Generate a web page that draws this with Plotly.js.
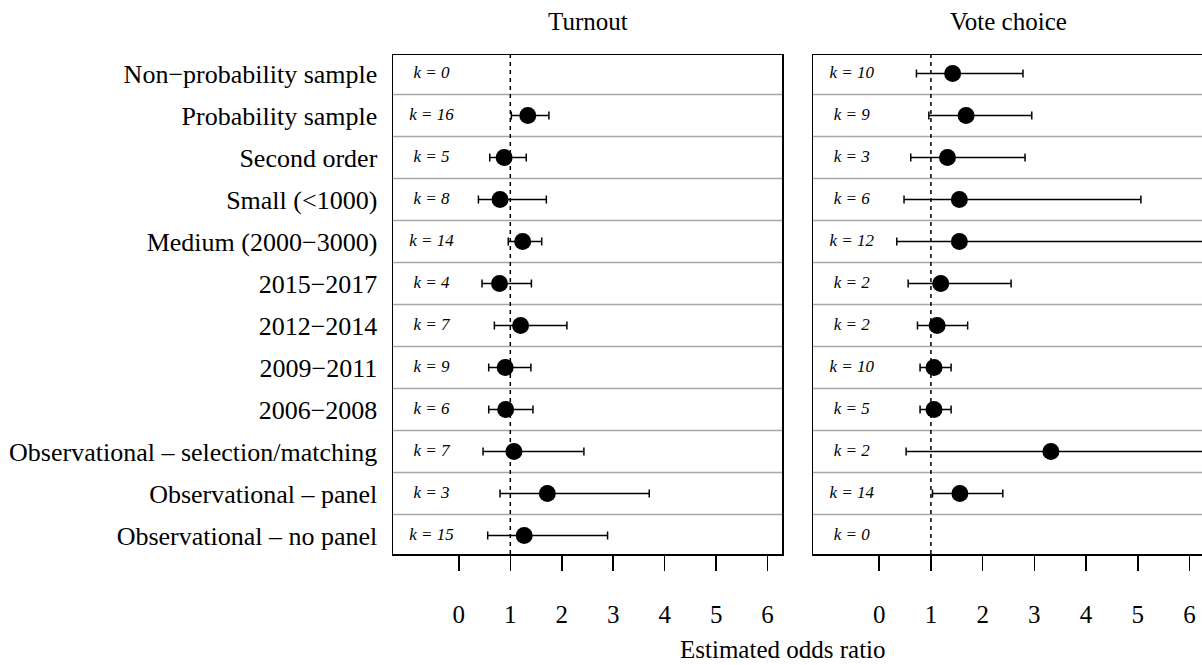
<!DOCTYPE html>
<html>
<head>
<meta charset="utf-8">
<script src="https://cdn.plot.ly/plotly-3.0.1.min.js"></script>
<style>
html,body{margin:0;padding:0;overflow:hidden;background:#fff;}
#chart{width:1210px;height:665px;}
</style>
</head>
<body>
<div id="chart"></div>
<script>
// Row categories (top to bottom)
const categories = [
  "Non\u2212probability sample",
  "Probability sample",
  "Second order",
  "Small (<1000)",
  "Medium (2000\u22123000)",
  "2015\u22122017",
  "2012\u22122014",
  "2009\u22122011",
  "2006\u22122008",
  "Observational \u2013 selection/matching",
  "Observational \u2013 panel",
  "Observational \u2013 no panel"
];

// Turnout panel
const turnoutK     = [0, 16, 5, 8, 14, 4, 7, 9, 6, 7, 3, 15];
const turnoutEst   = [null, 1.34, 0.88, 0.80, 1.24, 0.79, 1.20, 0.90, 0.91, 1.07, 1.72, 1.27];
const turnoutLower = [null, 1.02, 0.60, 0.38, 0.96, 0.45, 0.69, 0.58, 0.58, 0.47, 0.80, 0.56];
const turnoutUpper = [null, 1.75, 1.31, 1.70, 1.61, 1.41, 2.10, 1.40, 1.44, 2.43, 3.70, 2.89];

// Vote choice panel
const voteK     = [10, 9, 3, 6, 12, 2, 2, 10, 5, 2, 14, 0];
const voteEst   = [1.42, 1.68, 1.32, 1.55, 1.55, 1.19, 1.12, 1.06, 1.06, 3.32, 1.56, null];
const voteLower = [0.72, 0.96, 0.61, 0.48, 0.34, 0.56, 0.74, 0.79, 0.79, 0.52, 1.03, null];
const voteUpper = [2.78, 2.95, 2.82, 5.06, 7.60, 2.55, 1.71, 1.39, 1.39, 7.60, 2.39, null];

const xTicks = [0, 1, 2, 3, 4, 5, 6];

const rows = categories.map((_, i) => i + 1);
const serif = '"Liberation Serif", "Times New Roman", serif';

function plus(est, up)  { return est.map((e, i) => e == null ? null : up[i] - e); }
function minus(est, lo) { return est.map((e, i) => e == null ? null : e - lo[i]); }

function pointTrace(est, lo, up, xa, ya) {
  return {
    type: 'scatter', mode: 'markers', x: est, y: rows, xaxis: xa, yaxis: ya,
    marker: {color: 'black', size: 17},
    error_x: {type: 'data', symmetric: false, array: plus(est, up), arrayminus: minus(est, lo),
              color: 'black', thickness: 1.5, width: 4},
    hoverinfo: 'skip', showlegend: false
  };
}
function kTrace(k, xa, ya) {
  return {
    type: 'scatter', mode: 'text', x: k.map(() => -0.53), y: rows, xaxis: xa, yaxis: ya,
    text: k.map(v => 'k = ' + v), textposition: 'middle center',
    textfont: {family: serif, size: 17, color: 'black', style: 'italic'},
    hoverinfo: 'skip', showlegend: false
  };
}

const data = [
  pointTrace(turnoutEst, turnoutLower, turnoutUpper, 'x', 'y'),
  kTrace(turnoutK, 'x', 'y'),
  pointTrace(voteEst, voteLower, voteUpper, 'x2', 'y2'),
  kTrace(voteK, 'x2', 'y2')
];

const W = 1210;
function xaxisDef(domain) {
  return {
    domain: domain, range: [-1.28, 6.28], tickvals: xTicks, ticktext: xTicks.map(String),
    ticks: 'outside', ticklen: 15, tickwidth: 1.5, tickcolor: 'black',
    showline: true, mirror: true, linecolor: 'black', linewidth: 1.5,
    showgrid: false, zeroline: false, ticklabelstandoff: 22,
    tickfont: {family: serif, size: 25, color: 'black'}, fixedrange: true
  };
}
function yaxisDef(anchor, showLabels) {
  return {
    anchor: anchor, domain: [0, 1], range: [categories.length + 0.44, 0.56],
    tickvals: rows, ticktext: categories, showticklabels: showLabels, ticks: '',
    showline: true, mirror: true, linecolor: 'black', linewidth: 1.5,
    showgrid: false, zeroline: false, ticklabelstandoff: 9,
    tickfont: {family: serif, size: 26, color: 'black'}, fixedrange: true
  };
}

const shapes = [];
['x', 'x2'].forEach((xa, j) => {
  const ya = j === 0 ? 'y' : 'y2';
  for (let i = 1; i < categories.length; i++) {
    shapes.push({type: 'line', xref: xa + ' domain', yref: ya, x0: 0, x1: 1, y0: i + 0.5, y1: i + 0.5,
                 line: {color: '#a8a8a8', width: 1.5}, layer: 'below'});
  }
  shapes.push({type: 'line', xref: xa, yref: ya + ' domain', x0: 1, x1: 1, y0: 0, y1: 1,
               line: {color: 'black', width: 1.5, dash: '4px,4px'}, layer: 'below'});
});

const layout = {
  width: W, height: 665,
  margin: {l: 0, r: 0, t: 55, b: 111, pad: 0},
  paper_bgcolor: 'white', plot_bgcolor: 'white',
  font: {family: serif, color: 'black'},
  xaxis: Object.assign(xaxisDef([393 / W, 782 / W]), {anchor: 'y'}),
  xaxis2: Object.assign(xaxisDef([813 / W, 1204 / W]), {anchor: 'y2'}),
  yaxis: yaxisDef('x', true),
  yaxis2: yaxisDef('x2', false),
  shapes: shapes,
  annotations: [
    {text: 'Turnout', xref: 'x domain', yref: 'y domain', x: 0.5, y: 1, yanchor: 'middle', yshift: 34,
     showarrow: false, font: {family: serif, size: 25, color: 'black'}},
    {text: 'Vote choice', xref: 'x2 domain', yref: 'y2 domain', x: 0.5, y: 1, yanchor: 'middle', yshift: 34,
     showarrow: false, font: {family: serif, size: 25, color: 'black'}},
    {text: 'Estimated odds ratio', xref: 'paper', yref: 'paper', x: 783 / W, y: 0, yanchor: 'middle', yshift: -95,
     showarrow: false, font: {family: serif, size: 25, color: 'black'}}
  ]
};

Plotly.newPlot('chart', data, layout, {displayModeBar: false, staticPlot: true});
</script>
</body>
</html>
